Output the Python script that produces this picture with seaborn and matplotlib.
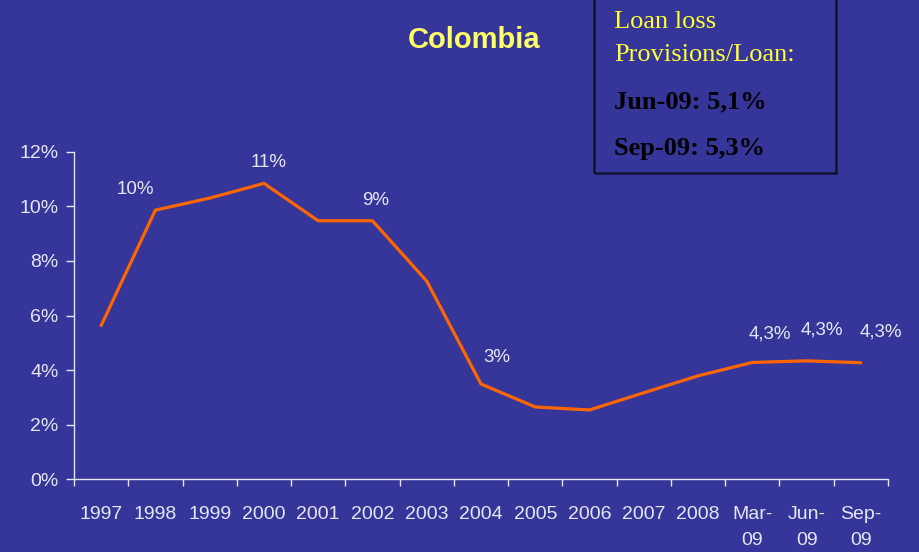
import pandas as pd
import matplotlib.pyplot as plt
import seaborn as sns
from matplotlib.patches import Rectangle

periods = ["1997", "1998", "1999", "2000", "2001", "2002", "2003", "2004",
           "2005", "2006", "2007", "2008", "Mar-\n09", "Jun-\n09", "Sep-\n09"]
ratio = [5.63, 9.86, 10.3, 10.84, 9.47, 9.47, 7.26, 3.49,
         2.65, 2.54, 3.17, 3.79, 4.28, 4.34, 4.27]
# labelled points: index -> text
labels = {1: "10%", 3: "11%", 5: "9%", 7: "3%", 12: "4,3%", 13: "4,3%", 14: "4,3%"}
label_offsets = {1: (-0.36, 0.74), 3: (0.08, 0.75), 5: (0.05, 0.76), 7: (0.3, 0.97),
                 12: (0.33, 1.04), 13: (0.29, 1.13), 14: (0.36, 1.13)}

bg = "#35359A"
fg = "#E6E6F2"

sns.set_theme(style="ticks", rc={
    "axes.facecolor": bg, "figure.facecolor": bg,
    "axes.edgecolor": fg, "xtick.color": fg, "ytick.color": fg,
    "text.color": fg,
})
plt.rcParams['font.family'] = ['Liberation Sans', 'DejaVu Sans']

df = pd.DataFrame({"pos": range(len(periods)), "ratio": ratio})

fig = plt.figure(figsize=(9.19, 5.52), dpi=100)
ax = fig.add_axes([74 / 919, 1 - 479.3 / 552, (888 - 74) / 919, (479.3 - 151.7) / 552])
sns.lineplot(data=df, x="pos", y="ratio", color="#FF6600", linewidth=2.3, ax=ax)

for i, txt in labels.items():
    dx, dy = label_offsets[i]
    ax.text(i + dx, ratio[i] + dy, txt, ha="center", va="center", fontsize=13.5, color=fg)

ax.set_xlim(-0.5, len(periods) - 0.5)
ax.set_ylim(0, 12)
ax.set_yticks(range(0, 13, 2))
ax.set_yticklabels([f"{v}%" for v in range(0, 13, 2)], fontsize=14)
ax.set_xticks(range(len(periods)))
ax.set_xticklabels(periods, fontsize=14, va="top", linespacing=1.75)
ax.tick_params(axis="x", which="major", length=0, pad=19)
ax.set_xticks([i - 0.5 for i in range(len(periods) + 1)], minor=True)
ax.tick_params(axis="x", which="minor", length=5, width=1, color=fg)
ax.tick_params(axis="y", length=6, width=1, pad=5)
ax.set_xlabel("")
ax.set_ylabel("")
sns.despine(ax=ax)
ax.spines["left"].set_linewidth(1)
ax.spines["bottom"].set_linewidth(1)

fig.text(474 / 919, 1 - 40 / 552, "Colombia", ha="center", va="center",
         fontsize=21, fontweight="bold", color="#FFFF66")

box = Rectangle((594 / 919, 1 - 173 / 552), (836 - 594) / 919, 175 / 552,
                transform=fig.transFigure, facecolor="none", edgecolor="#111133",
                linewidth=1.8)
fig.patches.append(box)
serif = ["Liberation Serif", "DejaVu Serif"]
fig.text(614 / 919, 1 - 28 / 552, "Loan loss", family=serif, fontsize=19,
         color="#FFFF33", va="baseline")
fig.text(614 / 919, 1 - 61 / 552, "Provisions/Loan:", family=serif, fontsize=19,
         color="#FFFF33", va="baseline")
fig.text(614 / 919, 1 - 108 / 552, "Jun-09: 5,1%", family=serif, fontsize=19,
         fontweight="bold", color="#000000", va="baseline")
fig.text(614 / 919, 1 - 155 / 552, "Sep-09: 5,3%", family=serif, fontsize=19,
         fontweight="bold", color="#000000", va="baseline")

fig.savefig("out.png", dpi=100, facecolor=bg)
